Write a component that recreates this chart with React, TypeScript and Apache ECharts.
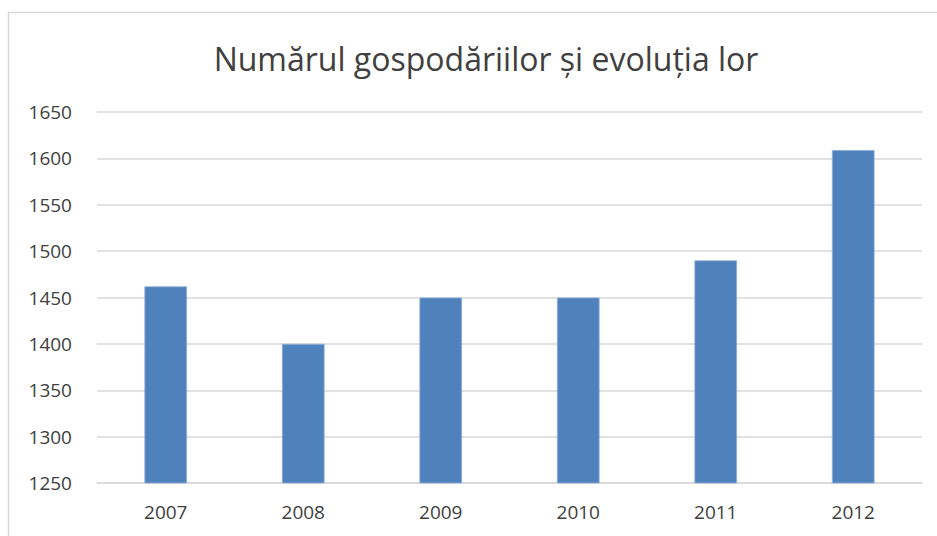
import React, { useEffect, useRef } from "react";
import * as echarts from "echarts";

const years = ["2007", "2008", "2009", "2010", "2011", "2012"];
const households = [1462, 1400, 1450, 1450, 1490, 1609];
const titleText = "Numărul gospodăriilor și evoluția lor";

export default function App() {
  const ref = useRef<HTMLDivElement>(null);
  useEffect(() => {
    if (!ref.current) return;
    const chart = echarts.init(ref.current, null, { renderer: "svg" });
    chart.setOption({
      animation: false,
      backgroundColor: "#ffffff",
      title: {
        text: titleText,
        left: 481,
        textAlign: "center",
        top: 37,
        textStyle: {
          fontFamily: "Open Sans",
          fontSize: 32,
          fontWeight: "normal",
          color: "#404040",
        },
      },
      graphic: [
        {
          type: "rect",
          shape: { x: 8.5, y: 12.5, width: 1000, height: 600 },
          style: { fill: "none", stroke: "#d9d9d9", lineWidth: 1.5 },
          silent: true,
        },
      ],
      grid: { left: 97, right: 15, top: 112, bottom: 53 },
      xAxis: {
        type: "category",
        data: years,
        axisLine: { show: true, lineStyle: { color: "#d9d9d9", width: 1.5 } },
        axisTick: { show: false },
        axisLabel: {
          fontFamily: "Open Sans",
          fontSize: 19,
          color: "#404040",
          margin: 19,
        },
      },
      yAxis: {
        type: "value",
        min: 1250,
        max: 1650,
        interval: 50,
        axisLine: { show: false },
        axisTick: { show: false },
        splitLine: { lineStyle: { color: "#d9d9d9", width: 1.5 } },
        axisLabel: {
          fontFamily: "Open Sans",
          fontSize: 19,
          color: "#404040",
          margin: 25,
          formatter: (v: number) => String(v),
        },
      },
      series: [
        {
          type: "bar",
          data: households,
          barWidth: "31%",
          itemStyle: { color: "#4F81BD", borderColor: "#8eaed6", borderWidth: 0.8 },
        },
      ],
    });
    return () => chart.dispose();
  }, []);
  return (
    <div
      ref={ref}
      style={{ position: "fixed", left: 0, top: 0, width: 937, height: 536 }}
    />
  );
}
